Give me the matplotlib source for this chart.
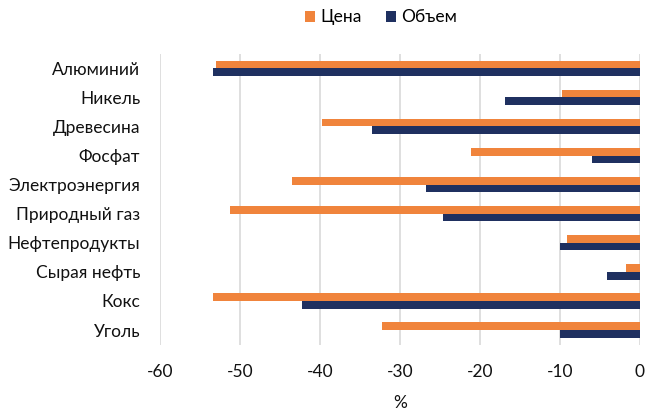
import matplotlib.pyplot as plt
import numpy as np

categories = ["Алюминий", "Никель", "Древесина", "Фосфат", "Электроэнергия",
              "Природный газ", "Нефтепродукты", "Сырая нефть", "Кокс", "Уголь"]
price = [-53.0, -9.7, -39.7, -21.1, -43.5, -51.2, -9.1, -1.7, -53.4, -32.2]
volume = [-53.4, -16.8, -33.5, -6.0, -26.7, -24.6, -10.0, -4.1, -42.2, -10.0]
xticks = [-60, -50, -40, -30, -20, -10, 0]

plt.rcParams["font.family"] = ["Lato", "DejaVu Sans"]

fig = plt.figure(figsize=(6.47, 4.12), dpi=100)
ax = fig.add_axes([0.247, 0.1636, 0.742, 0.706])

y = np.arange(len(categories))[::-1]
h = 0.265
ax.barh(y + h / 2, price, height=h, color="#F0843C", label="Цена", zorder=3)
ax.barh(y - h / 2, volume, height=h, color="#1F3060", label="Объем", zorder=3)

ax.set_xlim(-60, 0)
ax.set_ylim(-0.5, len(categories) - 0.5)
ax.set_xticks(xticks)
ax.set_xticklabels([str(t) for t in xticks], fontsize=12.5, color="#111111")
ax.set_yticks(y)
ax.set_yticklabels(categories, fontsize=12.5, color="#111111")
ax.tick_params(axis="both", length=0)
ax.tick_params(axis="x", pad=14)
ax.tick_params(axis="y", pad=14)
ax.grid(axis="x", color="#D9D9D9", linewidth=1.2, zorder=0)
for s in ax.spines.values():
    s.set_visible(False)
ax.set_xlabel("%", fontsize=12.5, color="#111111", labelpad=11)

fig.legend(loc="upper center", bbox_to_anchor=(0.589, 1.015), ncol=2, frameon=False,
           fontsize=12.5, handlelength=0.6, handleheight=0.6, handletextpad=0.3,
           columnspacing=1.4)

fig.savefig("out.png", dpi=100)
